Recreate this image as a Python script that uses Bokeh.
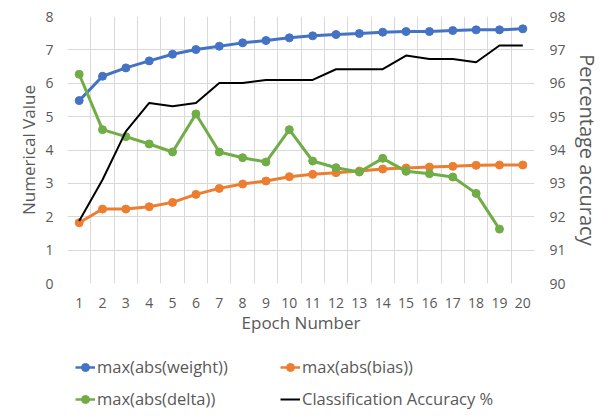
from bokeh.plotting import figure
from bokeh.layouts import column
from bokeh.models import (LinearAxis, Range1d, FixedTicker, Legend, LegendItem)
from bokeh.embed import file_html
from bokeh.resources import INLINE

# ---- data ----
epochs = list(range(1, 21))
weight = [5.48, 6.21, 6.46, 6.67, 6.87, 7.01, 7.11, 7.21, 7.28, 7.36,
          7.42, 7.46, 7.49, 7.53, 7.55, 7.55, 7.58, 7.60, 7.60, 7.63]
bias = [1.82, 2.23, 2.23, 2.30, 2.43, 2.67, 2.85, 2.98, 3.07, 3.20,
        3.27, 3.32, 3.37, 3.43, 3.46, 3.49, 3.51, 3.54, 3.55, 3.55]
delta_epochs = list(range(1, 20))
delta = [6.27, 4.61, 4.40, 4.18, 3.94, 5.08, 3.94, 3.77, 3.64, 4.61,
         3.67, 3.47, 3.34, 3.75, 3.36, 3.29, 3.19, 2.70, 1.63]
accuracy = [91.87, 93.11, 94.56, 95.41, 95.31, 95.41, 96.01, 96.01, 96.10, 96.10,
            96.10, 96.42, 96.42, 96.42, 96.83, 96.73, 96.73, 96.63, 97.13, 97.13]
left_ticks = [0, 1, 2, 3, 4, 5, 6, 7, 8]
right_ticks = [90, 91, 92, 93, 94, 95, 96, 97, 98]
series_names = ["max(abs(weight))", "max(abs(bias))", "max(abs(delta))",
                "Classification Accuracy %"]

FONT = "Open Sans"
TXT = "#595959"
GRID = "#d9d9d9"
C_W, C_B, C_D, C_A = "#4472C4", "#ED7D31", "#70AD47", "#000000"

p = figure(width=603, height=340, output_backend="svg", toolbar_location=None,
           x_range=Range1d(0.5, 20.5), y_range=Range1d(left_ticks[0], left_ticks[-1]),
           min_border_left=67, min_border_right=62, min_border_top=16, min_border_bottom=57,
           x_axis_label="Epoch Number", y_axis_label="Numerical Value")
p.extra_y_ranges = {"acc": Range1d(right_ticks[0], right_ticks[-1])}
p.outline_line_color = None
p.background_fill_color = "white"
p.border_fill_color = "white"

# grids
p.xgrid.ticker = FixedTicker(ticks=[e - 0.5 for e in epochs] + [epochs[-1] + 0.5])
p.ygrid.ticker = FixedTicker(ticks=left_ticks)
for g in (p.xgrid, p.ygrid):
    g.grid_line_color = GRID
    g.grid_line_width = 1

# axes
p.xaxis.ticker = FixedTicker(ticks=epochs)
p.yaxis.ticker = FixedTicker(ticks=left_ticks)
right_axis = LinearAxis(y_range_name="acc", axis_label="Percentage accuracy",
                        ticker=FixedTicker(ticks=right_ticks))
p.add_layout(right_axis, "right")

for ax in (p.xaxis[0], p.yaxis[0], right_axis):
    ax.axis_line_color = None
    ax.major_tick_line_color = None
    ax.minor_tick_line_color = None
    ax.major_tick_out = 0
    ax.major_tick_in = 0
    ax.major_label_text_font = FONT
    ax.major_label_text_font_size = "14px"
    ax.major_label_text_color = TXT
    ax.axis_label_text_font = FONT
    ax.axis_label_text_font_size = "17px"
    ax.axis_label_text_color = TXT
    ax.axis_label_text_font_style = "normal"
right_axis.axis_label_text_font_size = "20px"

p.xaxis.major_label_standoff = 14
p.xaxis.axis_label_standoff = 0
p.yaxis[0].major_label_standoff = 14
p.yaxis[0].axis_label_standoff = 2
right_axis.major_label_standoff = 15
right_axis.axis_label_standoff = 5

# series
p.line(epochs, weight, line_color=C_W, line_width=3)
p.scatter(epochs, weight, size=8, fill_color=C_W, line_color=C_W)
p.line(epochs, bias, line_color=C_B, line_width=3)
p.scatter(epochs, bias, size=8, fill_color=C_B, line_color=C_B)
p.line(delta_epochs, delta, line_color=C_D, line_width=3)
p.scatter(delta_epochs, delta, size=8, fill_color=C_D, line_color=C_D)
p.line(epochs, accuracy, line_color=C_A, line_width=2, y_range_name="acc")

# ---- legend strip (separate figure below the chart; its ranges keep the
#      series out of view so only the legend shows) ----
q = figure(width=603, height=76, output_backend="svg", toolbar_location=None,
           x_range=Range1d(-20, -10), y_range=Range1d(-20, -10),
           min_border_left=67, min_border_right=62, min_border_top=0, min_border_bottom=0)
q.axis.visible = False
q.grid.visible = False
q.outline_line_color = None
q.border_fill_color = "white"

series = [(epochs, weight, C_W), (epochs, bias, C_B), (delta_epochs, delta, C_D),
          (epochs, accuracy, C_A)]
items = []
for name, (xs, ys, col) in zip(series_names, series):
    rs = [q.line(xs, ys, line_color=col, line_width=2.5 if col != C_A else 2)]
    if col != C_A:
        rs.append(q.scatter(xs, ys, size=6, fill_color=col, line_color=col))
    items.append(LegendItem(label=name, renderers=rs))

legend = Legend(items=items, orientation="horizontal", ncols=2, location=(8, 6))
legend.label_text_font = FONT
legend.label_text_font_size = "16.5px"
legend.label_text_color = TXT
legend.label_standoff = 2
legend.label_width = 174
legend.glyph_width = 20
legend.glyph_height = 20
legend.spacing = 9
legend.padding = 8
legend.margin = 0
legend.border_line_color = None
legend.background_fill_alpha = 0
q.add_layout(legend, "center")

layout = column(p, q, spacing=0)
open("out.html", "w").write(file_html(layout, INLINE))
